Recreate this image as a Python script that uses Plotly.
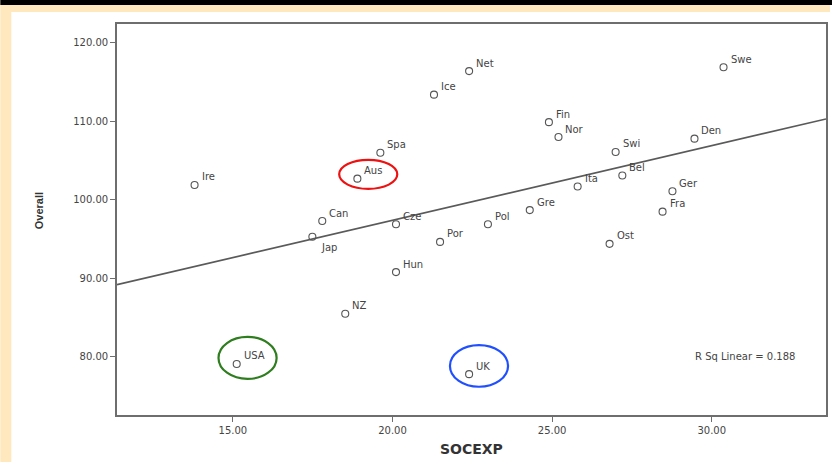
import plotly.graph_objects as go

# ---- data ----
countries = ["Ire", "Aus", "Spa", "Can", "Jap", "Cze", "Hun", "NZ", "USA", "UK",
             "Por", "Pol", "Gre", "Ita", "Bel", "Swi", "Fin", "Nor", "Ice", "Net",
             "Swe", "Den", "Ger", "Fra", "Ost"]
socexp = [13.8, 18.9, 19.62, 17.8, 17.49, 20.11, 20.11, 18.52, 15.12, 22.4,
          21.49, 22.99, 24.3, 25.8, 27.2, 26.99, 24.9, 25.2, 21.3, 22.4,
          30.37, 29.46, 28.77, 28.46, 26.8]
overall = [101.9, 102.7, 106.0, 97.3, 95.3, 96.9, 90.8, 85.5, 79.1, 77.8,
           94.65, 96.9, 98.7, 101.7, 103.1, 106.1, 109.9, 108.0, 113.4, 116.4,
           116.9, 107.8, 101.1, 98.5, 94.4]
fit_x = [11.37, 33.58]
fit_y = [89.2, 110.3]
r_sq = 0.188
x_ticks = [15, 20, 25, 30]
y_ticks = [80, 90, 100, 110, 120]

X_RANGE = [11.37, 33.58]
Y_RANGE = [72.6, 122.4]

FONT = "DejaVu Sans, Liberation Sans, Arial, sans-serif"

fig = go.Figure()

fig.add_trace(go.Scatter(
    x=fit_x, y=fit_y, mode="lines",
    line=dict(color="#5a5a5a", width=1.7),
    hoverinfo="skip", showlegend=False,
))

fig.add_trace(go.Scatter(
    x=socexp, y=overall, mode="markers",
    marker=dict(symbol="circle-open", size=7, color="#555555",
                line=dict(color="#555555", width=1.1)),
    text=countries, hovertemplate="%{text}: %{x}, %{y}<extra></extra>",
    showlegend=False,
))

annotations = []
for name, xv, yv in zip(countries, socexp, overall):
    if name == "Jap":
        xs, ys = 7, -11
    else:
        xs, ys = 5, 8
    annotations.append(dict(
        x=xv, y=yv, xref="x", yref="y", text=name, showarrow=False,
        xanchor="left", yanchor="middle", xshift=xs, yshift=ys,
        font=dict(family=FONT, size=10, color="#444444"),
    ))

annotations.append(dict(
    x=32.68, y=80.1, xref="x", yref="y",
    text="R Sq Linear = %.3f" % r_sq, showarrow=False,
    xanchor="right", yanchor="middle",
    font=dict(family=FONT, size=10, color="#444444"),
))
# axis titles
annotations.append(dict(
    x=0.5, y=(415 - 449) / 391, xref="paper", yref="paper", text="<b>SOCEXP</b>",
    showarrow=False, xanchor="center", yanchor="middle",
    font=dict(family=FONT, size=14, color="#333333"),
))
annotations.append(dict(
    x=(39 - 117) / 711, y=(415 - 211) / 391, xref="paper", yref="paper",
    text="<b>Overall</b>", textangle=-90,
    showarrow=False, xanchor="center", yanchor="middle",
    font=dict(family="Liberation Sans, Arial, sans-serif", size=11, color="#333333"),
))

shapes = [
    # beige page background frame, white slide area, black top strip
    dict(type="rect", xref="paper", yref="paper", layer="below",
         x0=(0 - 117) / 711, x1=(832 - 117) / 711,
         y0=(415 - 462) / 391, y1=(415 - 0) / 391,
         fillcolor="#FFE8BD", line=dict(width=0)),
    dict(type="rect", xref="paper", yref="paper", layer="below",
         x0=(11 - 117) / 711, x1=(834 - 117) / 711,
         y0=(415 - 464) / 391, y1=(415 - 12) / 391,
         fillcolor="white", line=dict(width=0)),
    dict(type="rect", xref="paper", yref="paper", layer="below",
         x0=(0 - 117) / 711, x1=(834 - 117) / 711,
         y0=(415 - 5) / 391, y1=(415 + 2) / 391,
         fillcolor="black", line=dict(width=0)),
    # highlight ellipses
    dict(type="circle", xref="x", yref="y", x0=18.33, x1=20.15, y0=101.4, y1=105.1,
         line=dict(color="#ee1111", width=2.2)),
    dict(type="circle", xref="x", yref="y", x0=14.55, x1=16.37, y0=77.2, y1=82.55,
         line=dict(color="#2e7d1e", width=2.2)),
    dict(type="circle", xref="x", yref="y", x0=21.8, x1=23.62, y0=76.2, y1=81.5,
         line=dict(color="#1f4fff", width=2.2)),
]

axis_common = dict(
    showgrid=False, zeroline=False, showline=True, mirror=True,
    linecolor="#6e6e6e", linewidth=1.6,
    ticks="outside", ticklen=5, tickcolor="#6e6e6e", tickwidth=1.2,
    tickformat=".2f",
    tickfont=dict(family=FONT, size=10, color="#444444"),
)

fig.update_layout(
    width=832, height=462,
    margin=dict(l=117, r=4, t=24, b=47),
    paper_bgcolor="white", plot_bgcolor="white",
    xaxis=dict(range=X_RANGE, tickvals=x_ticks, **axis_common),
    yaxis=dict(range=Y_RANGE, tickvals=y_ticks, **axis_common),
    annotations=annotations, shapes=shapes,
    showlegend=False,
)

fig.write_html(
    "out.html",
    config={"displayModeBar": False},
    post_script="document.body.style.margin='0';document.body.style.overflow='hidden';",
)
